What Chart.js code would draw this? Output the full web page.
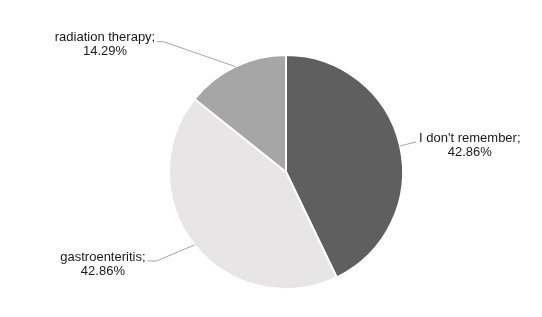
<!DOCTYPE html>
<html>
<head>
<meta charset="utf-8">
<script src="https://cdn.jsdelivr.net/npm/chart.js@4.4.0/dist/chart.umd.min.js"></script>
<style>
    html, body { margin: 0; padding: 0; background: #fff; }
    #wrap { width: 542px; height: 317px; position: relative; }
</style>
</head>
<body>
<div id="wrap"><canvas id="pie"></canvas></div>
<script>
const categories = ["I don't remember", "gastroenteritis", "radiation therapy"];
const shares = [42.86, 42.86, 14.29];
const sliceColors = ["#5f5f5f", "#e7e5e5", "#a6a6a6"];

// leader line layout per slice: elbow offset from slice edge, horizontal tail, text side
const leaders = [
    { elbow: [16, -4], tail: 0, side: "right" },
    { elbow: [-38, 16], tail: -9, side: "left" },
    { elbow: [-72, -25], tail: -6, side: "left" },
];

const leaderLabels = {
    id: "leaderLabels",
    afterDatasetsDraw(chart) {
        const ctx = chart.ctx;
        const meta = chart.getDatasetMeta(0);
        ctx.save();
        ctx.font = "13px 'Liberation Sans', Arial, sans-serif";
        ctx.textBaseline = "middle";
        meta.data.forEach((arc, i) => {
            const { x, y, startAngle, endAngle, outerRadius } = arc.getProps(["x", "y", "startAngle", "endAngle", "outerRadius"], true);
            const mid = (startAngle + endAngle) / 2;
            const ex = x + Math.cos(mid) * outerRadius;
            const ey = y + Math.sin(mid) * outerRadius;
            const L = leaders[i];
            const bx = ex + L.elbow[0];
            const by = ey + L.elbow[1];
            const tx = bx + L.tail;

            ctx.strokeStyle = "#a6a6a6";
            ctx.lineWidth = 1;
            ctx.beginPath();
            ctx.moveTo(ex, ey);
            ctx.lineTo(bx, by);
            ctx.lineTo(tx, by);
            ctx.stroke();

            const lines = [categories[i] + ";", shares[i].toFixed(2) + "%"];
            const w = Math.max(...lines.map(s => ctx.measureText(s).width));
            const cx = L.side === "right" ? tx + 3 + w / 2 : tx - 2 - w / 2;
            ctx.fillStyle = "#1a1a1a";
            ctx.textAlign = "center";
            ctx.fillText(lines[0], cx, by - 4);
            ctx.fillText(lines[1], cx, by + 10);
        });
        ctx.restore();
    },
};

new Chart(document.getElementById("pie"), {
    type: "pie",
    data: {
        labels: categories,
        datasets: [{
            data: shares,
            backgroundColor: sliceColors,
            borderColor: "#ffffff",
            borderWidth: 2,
        }],
    },
    options: {
        responsive: true,
        maintainAspectRatio: false,
        animation: false,
        layout: { padding: { left: 30, right: 0, top: 54, bottom: 27 } },
        plugins: {
            legend: { display: false },
            tooltip: { enabled: false },
        },
    },
    plugins: [leaderLabels],
});
</script>
</body>
</html>
